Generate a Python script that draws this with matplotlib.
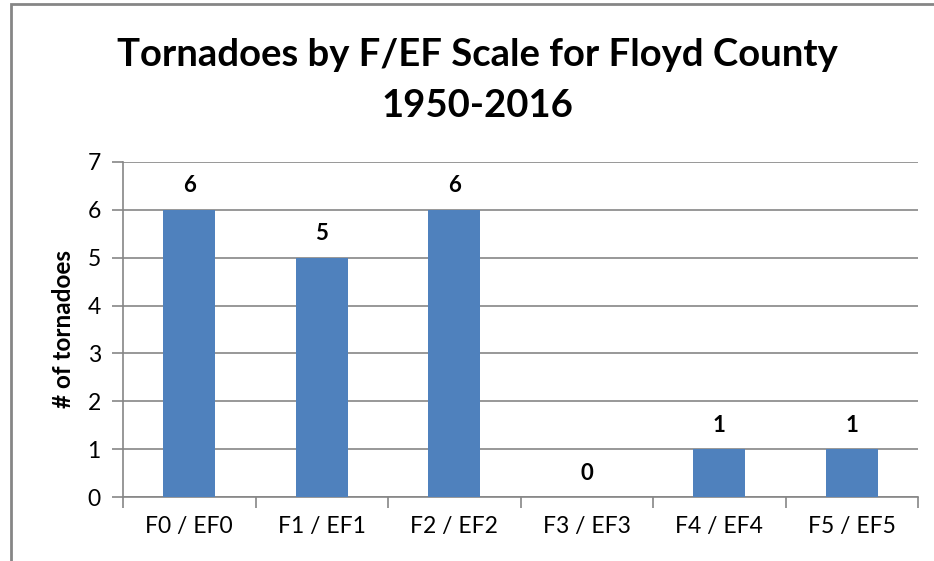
import matplotlib
matplotlib.use("Agg")
import matplotlib.pyplot as plt
from matplotlib.patches import Rectangle

categories = ["F0 / EF0", "F1 / EF1", "F2 / EF2", "F3 / EF3", "F4 / EF4", "F5 / EF5"]
counts = [6, 5, 6, 0, 1, 1]
yticks = [0, 1, 2, 3, 4, 5, 6, 7]

plt.rcParams['font.family'] = ['Lato', 'DejaVu Sans']

W, H = 934, 561
fig = plt.figure(figsize=(W / 100, H / 100), dpi=100)
fig.patch.set_facecolor("white")

# outer chart frame
fig.patches.append(Rectangle((11 / W, -0.1), 1.2, (H - 4) / H + 0.1, transform=fig.transFigure,
                             fill=False, edgecolor="#868686", linewidth=2))

left, right, bottom, top = 123, 918, 497, 162
ax = fig.add_axes([left / W, 1 - bottom / H, (right - left) / W, (bottom - top) / H])

x = list(range(len(categories)))
ax.bar(x, counts, width=0.39, color="#4F81BD", zorder=3)
ax.set_xlim(-0.5, len(categories) - 0.5)
ax.set_ylim(0, 7)
ax.set_yticks(yticks)
ax.set_yticklabels([str(v) for v in yticks], fontsize=16.5)
ax.yaxis.grid(True, color="#868686", linewidth=1.2, zorder=0)
ax.tick_params(axis='y', length=8, color="#868686", width=1.2, pad=8)

ax.set_xticks(x)
ax.set_xticklabels(categories, fontsize=16.5)
ax.tick_params(axis='x', length=0, pad=14)
ax.set_xticks([i - 0.5 for i in range(len(categories) + 1)], minor=True)
ax.tick_params(axis='x', which='minor', length=8, color="#868686", width=1.2)

for s in ["top", "right"]:
    ax.spines[s].set_visible(False)
for s in ["left", "bottom"]:
    ax.spines[s].set_color("#868686")
    ax.spines[s].set_linewidth(1.2)

for xi, v in zip(x, counts):
    ax.text(xi, v + 0.28, str(v), ha="center", va="bottom", fontsize=16, fontweight="bold")

ax.set_ylabel("# of tornadoes", fontsize=17.5, fontweight="bold", labelpad=9)

fig.text(477 / W, 1 - 55 / H, "Tornadoes by F/EF Scale for Floyd County", ha="center", va="center",
         fontsize=27.5, fontweight="bold")
fig.text(477 / W, 1 - 106 / H, "1950-2016", ha="center", va="center", fontsize=27.5, fontweight="bold")

fig.savefig("out.png", dpi=100, facecolor="white")
